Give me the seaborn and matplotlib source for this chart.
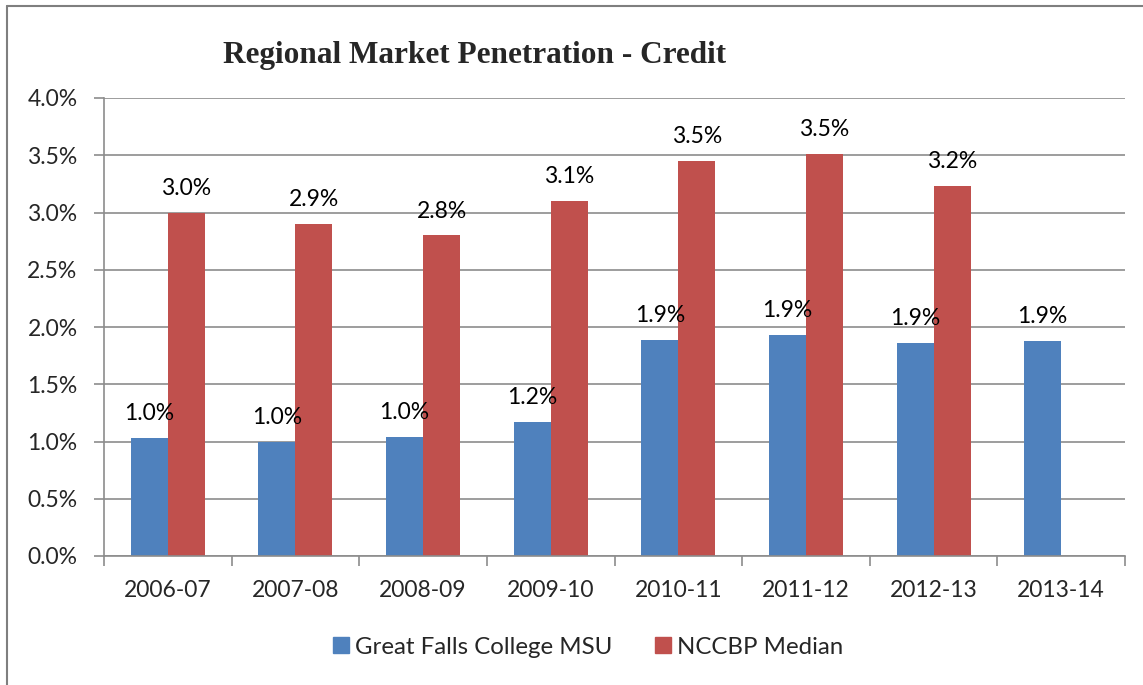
import matplotlib
matplotlib.use("Agg")
import matplotlib.pyplot as plt
from matplotlib.lines import Line2D
from matplotlib.ticker import FuncFormatter, FixedLocator, MultipleLocator
import seaborn as sns
import pandas as pd
import numpy as np

years = ["2006-07", "2007-08", "2008-09", "2009-10", "2010-11", "2011-12", "2012-13", "2013-14"]
gfc = [1.03, 1.00, 1.04, 1.17, 1.89, 1.93, 1.86, 1.88]
nccbp = [3.00, 2.90, 2.80, 3.10, 3.45, 3.51, 3.23, np.nan]
series = ["Great Falls College MSU", "NCCBP Median"]
colors = ["#4F81BD", "#C0504D"]
title = "Regional Market Penetration - Credit"

df = pd.DataFrame({
    "year": years * 2,
    "value": gfc + nccbp,
    "series": [series[0]] * len(years) + [series[1]] * len(years),
})

sns.set_style("white")
plt.rcParams["font.family"] = ["Lato", "DejaVu Sans"]

fig = plt.figure(figsize=(11.43, 6.85), dpi=100)
ax = fig.add_axes([104 / 1143, 1 - 556 / 685, (1125 - 104) / 1143, (556 - 98) / 685])

sns.barplot(data=df, x="year", y="value", hue="series", order=years,
            hue_order=series, palette=colors, width=0.58, ax=ax,
            saturation=1, legend=False, edgecolor="none", linewidth=0)

ax.set_ylim(0, 4.0)
ax.set_xlim(-0.5, len(years) - 0.5)
ax.yaxis.set_major_locator(MultipleLocator(0.5))
ax.yaxis.set_major_formatter(FuncFormatter(lambda v, p: f"{v:.1f}%"))
ax.grid(axis="y", color="#8C8C8C", linewidth=1.2)
ax.set_axisbelow(True)
ax.set_xlabel("")
ax.set_ylabel("")

for s in ["top", "right"]:
    ax.spines[s].set_visible(False)
for s in ["left", "bottom"]:
    ax.spines[s].set_color("#8C8C8C")
    ax.spines[s].set_linewidth(1.2)

ax.tick_params(axis="y", which="major", direction="out", length=7, width=1.2,
               color="#8C8C8C", labelsize=16.5, pad=12, left=True)
ax.tick_params(axis="x", which="major", length=0, labelsize=16.5, pad=17)
ax.xaxis.set_minor_locator(FixedLocator(np.arange(-0.5, len(years), 1.0)))
ax.tick_params(axis="x", which="minor", direction="out", length=7, width=1.2,
               color="#8C8C8C", bottom=True)

for cont in ax.containers:
    labels = []
    for bar in cont:
        h = bar.get_height()
        labels.append("" if (h is None or np.isnan(h)) else f"{h:.1f}%")
    ax.bar_label(cont, labels=labels, padding=10, fontsize=16.5, color="black")

handles = [Line2D([0], [0], marker="s", linestyle="none", markersize=11,
                  markerfacecolor=c, markeredgecolor=c) for c in colors]
fig.legend(handles, series, loc="center", bbox_to_anchor=(586 / 1143, 1 - 647 / 685),
           ncol=2, frameon=False, fontsize=17.3, handletextpad=0.1,
           columnspacing=1.6, handlelength=1.0)

fig.text(475 / 1143, 1 - 55 / 685, title, ha="center", va="center",
         fontsize=22.5, fontweight="bold", family="Liberation Serif")

# outer chart border (top and left visible)
fig.add_artist(Line2D([7 / 1143, 1.0], [1 - 6 / 685, 1 - 6 / 685], color="#7F7F7F", linewidth=1.5))
fig.add_artist(Line2D([7 / 1143, 7 / 1143], [0, 1 - 6 / 685], color="#7F7F7F", linewidth=1.5))

fig.savefig("out.png", dpi=100)
